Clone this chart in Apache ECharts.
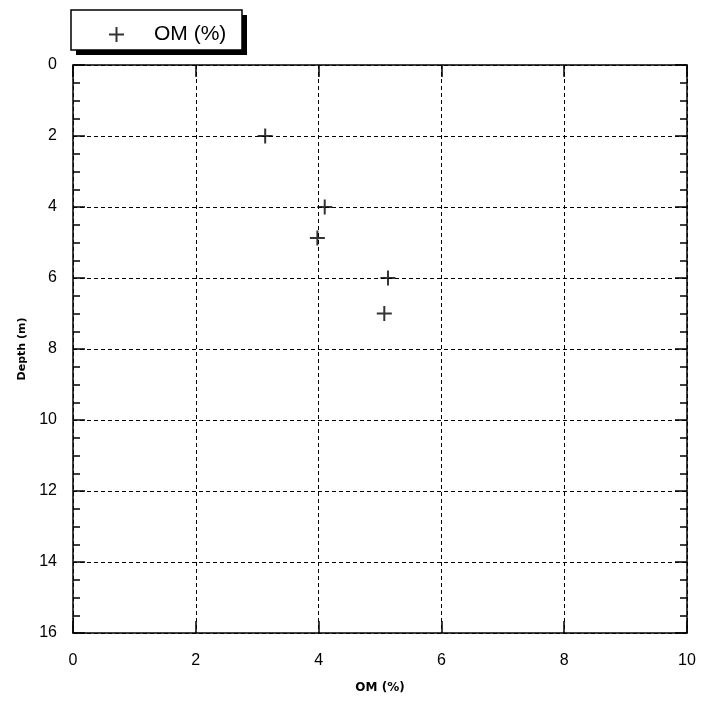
<!DOCTYPE html>
<html>
<head>
<meta charset="utf-8">
<script src="https://cdn.jsdelivr.net/npm/echarts@6/dist/echarts.min.js"></script>
<style>html,body{margin:0;padding:0;background:#fff;}#c{width:703px;height:708px;}</style>
</head>
<body>
<div id="c"></div>
<script>
const seriesName = 'OM (%)';
const omValues = [3.13, 4.1, 3.98, 5.13, 5.07];
const depthValues = [2, 4, 4.87, 6, 7];
const xTicks = [0, 2, 4, 6, 8, 10];
const yTicks = [0, 2, 4, 6, 8, 10, 12, 14, 16];

const plus = 'path://M0,6.5H15V8.5H0Z M6.5,0H8.5V15H6.5Z';
const font = 'Liberation Sans, Arial, sans-serif';
const narrow = 'Liberation Sans Narrow, Arial Narrow, Liberation Sans, sans-serif';
const nameFont = 'DejaVu Sans, sans-serif';
const dash = [4, 3];

const chart = echarts.init(document.getElementById('c'));
const xBase = {
  type: 'value', min: xTicks[0], max: xTicks[xTicks.length - 1], interval: 2,
  axisLine: { show: true, onZero: false, lineStyle: { color: '#000', width: 1.5 } },
  axisTick: { show: true, inside: true, length: 12, lineStyle: { color: '#000', width: 1.5 } }
};
const yBase = {
  type: 'value', inverse: true, min: yTicks[0], max: yTicks[yTicks.length - 1], interval: 2,
  axisLine: { show: true, onZero: false, lineStyle: { color: '#000', width: 1.5 } },
  axisTick: { show: true, inside: true, length: 12, lineStyle: { color: '#000', width: 1.5 } },
  minorTick: { show: true, splitNumber: 4, length: 7, lineStyle: { color: '#000', width: 1.5 } }
};
chart.setOption({
  animation: false,
  backgroundColor: '#fff',
  grid: { left: 73, right: 16, top: 65, bottom: 75 },
  graphic: [
    { type: 'rect', z: 0, silent: true, shape: { x: 76, y: 15, width: 171, height: 40 }, style: { fill: '#000' } },
    { type: 'rect', z: 1, silent: true, shape: { x: 71, y: 10, width: 171, height: 40 }, style: { fill: '#fff', stroke: '#000', lineWidth: 1.5 } }
  ],
  legend: {
    left: 109, top: 24, padding: 0, z: 10,
    itemWidth: 15, itemHeight: 15,
    icon: plus,
    textStyle: { fontFamily: font, fontSize: 21, color: '#000', padding: [0, 0, 0, 25] },
    data: [{ name: seriesName, icon: plus, itemStyle: { color: '#000' } }]
  },
  xAxis: [
    Object.assign({}, xBase, {
      position: 'bottom',
      name: 'OM (%)', nameLocation: 'middle', nameGap: 49,
      nameTextStyle: { fontFamily: nameFont, fontSize: 12, fontWeight: 'bold', color: '#000' },
      axisLabel: { margin: 20, fontFamily: narrow, fontSize: 16, color: '#000' },
      splitLine: { show: true, lineStyle: { color: '#000', type: dash, width: 1 } }
    }),
    Object.assign({}, xBase, {
      position: 'top', axisLabel: { show: false }, splitLine: { show: false }
    })
  ],
  yAxis: [
    Object.assign({}, yBase, {
      position: 'left',
      name: 'Depth (m)', nameLocation: 'middle', nameGap: 45,
      nameTextStyle: { fontFamily: nameFont, fontSize: 11, fontWeight: 'bold', color: '#000' },
      axisLabel: { margin: 16, fontFamily: narrow, fontSize: 16, color: '#000' },
      splitLine: { show: true, lineStyle: { color: '#000', type: dash, width: 1 } }
    }),
    Object.assign({}, yBase, {
      position: 'right', axisLabel: { show: false }, splitLine: { show: false }
    })
  ],
  series: [{
    name: seriesName, type: 'scatter', symbol: plus, symbolSize: 15,
    itemStyle: { color: '#000' },
    data: omValues.map((v, i) => [v, depthValues[i]])
  }]
});
</script>
</body>
</html>
